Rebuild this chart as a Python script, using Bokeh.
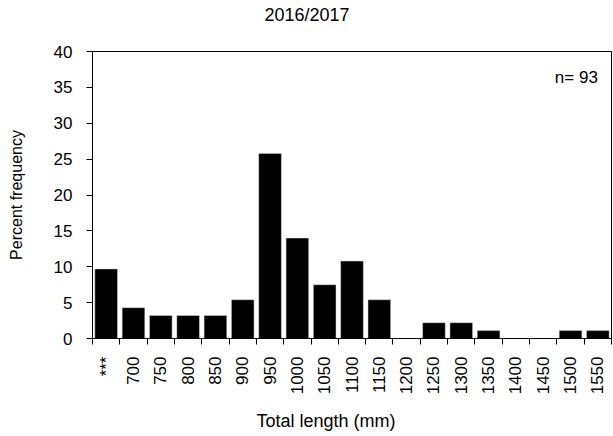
import math
from bokeh.plotting import figure
from bokeh.models import FixedTicker, Label, ColumnDataSource, Title
from bokeh.embed import file_html
from bokeh.resources import INLINE

categories = ["***", "700", "750", "800", "850", "900", "950", "1000", "1050", "1100",
              "1150", "1200", "1250", "1300", "1350", "1400", "1450", "1500", "1550"]
percent = [9.7, 4.3, 3.2, 3.2, 3.2, 5.4, 25.8, 14.0, 7.5, 10.8,
           5.4, 0.0, 2.2, 2.2, 1.1, 0.0, 0.0, 1.1, 1.1]
y_ticks = [0, 5, 10, 15, 20, 25, 30, 35, 40]
title_text = "2016/2017"
x_label = "Total length  (mm)"
y_label = "Percent frequency"
n_text = "n= 93"

FONT = "Liberation Sans"
n = len(categories)
centers = [i + 0.5 for i in range(n)]
bounds = list(range(n + 1))

p = figure(width=613, height=436, output_backend="svg", toolbar_location=None,
           x_range=(0, n), y_range=(0, 40),
           min_border_left=92, min_border_right=2, min_border_top=51, min_border_bottom=98)

src = ColumnDataSource(dict(x=centers, top=percent))
p.vbar(x="x", top="top", width=0.83, bottom=0, source=src,
       fill_color="black", line_color="#dddddd", line_width=0.5)

p.grid.visible = False
p.outline_line_color = "black"
p.outline_line_width = 1
p.background_fill_color = "white"
p.border_fill_color = "white"

# x axis
xa = p.xaxis[0]
xa.ticker = FixedTicker(ticks=centers, minor_ticks=bounds)
xa.major_label_overrides = {c: lab for c, lab in zip(centers, categories)}
xa.major_tick_out = 0
xa.major_tick_in = 0
xa.minor_tick_out = 6
xa.minor_tick_in = 0
xa.minor_tick_line_color = "black"
xa.major_label_orientation = math.pi / 2
xa.major_label_text_font = FONT
xa.major_label_text_font_size = "17px"
xa.major_label_text_color = "black"
xa.major_label_standoff = 12
xa.axis_line_color = "black"

# y axis
ya = p.yaxis[0]
ya.ticker = FixedTicker(ticks=y_ticks)
ya.minor_tick_line_color = None
ya.major_tick_out = 6
ya.major_tick_in = 0
ya.major_label_text_font = FONT
ya.major_label_text_font_size = "17px"
ya.major_label_text_color = "black"
ya.major_label_standoff = 14
ya.axis_line_color = "black"
ya.axis_label = y_label
ya.axis_label_text_font = FONT
ya.axis_label_text_font_size = "16px"
ya.axis_label_text_font_style = "normal"
ya.axis_label_text_color = "black"
ya.axis_label_standoff = 26

# spacer + title above the frame
p.add_layout(Title(text=" ", text_font_size="1px", standoff=24), "above")
p.add_layout(Title(text=title_text, align="left", offset=172, text_font=FONT,
                   text_font_size="18px", text_font_style="normal", text_color="black",
                   standoff=0), "above")

# spacer + x axis label below the axis
p.add_layout(Title(text=" ", text_font_size="1px", standoff=8), "below")
p.add_layout(Title(text=x_label, align="left", offset=164, text_font=FONT,
                   text_font_size="18px", text_font_style="normal", text_color="black",
                   standoff=0), "below")

p.add_layout(Label(x=18.5, y=36.4, text=n_text, text_align="right", text_baseline="middle",
                   text_font=FONT, text_font_size="17px", text_color="black"))

open("out.html", "w").write(file_html(p, INLINE))
